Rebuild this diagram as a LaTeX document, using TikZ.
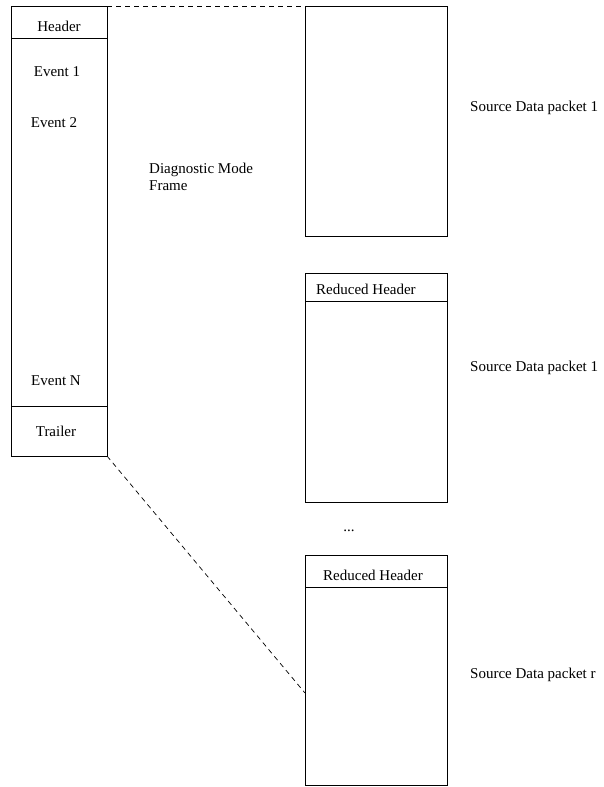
\documentclass[tikz,border=0pt]{standalone}
\usepackage{fontspec}
\setmainfont{Liberation Serif}
\begin{document}
\begin{tikzpicture}[x=1pt,y=-1pt,
  box/.style={draw,line width=0.8pt,inner sep=0pt,outer sep=0pt,anchor=north west},
  lbl/.style={inner sep=0pt,font=\fontsize{15}{17.5}\selectfont},
  sep/.style={line width=0.8pt},
  link/.style={line width=0.7pt,dashed,dash pattern=on 5pt off 4pt}]
\useasboundingbox (0,0) rectangle (604,787);
% diagnostic mode frame
\node[box,minimum width=96pt,minimum height=450pt] (frame) at (11,6) {};
\coordinate (hdL) at (11,38);   \coordinate (hdR) at (107,38);
\coordinate (trL) at (11,406);  \coordinate (trR) at (107,406);
\draw[sep] (hdL) -- (hdR);
\draw[sep] (trL) -- (trR);
\node[lbl] (hdr) at (59,26) {Header};
\node[lbl] (ev1) at (57,72) {Event 1};
\node[lbl] (ev2) at (54,123) {Event 2};
\node[lbl] (evn) at (56,381) {Event N};
\node[lbl] (trl) at (56,431) {Trailer};
\node[lbl,anchor=west,align=left] (dmf) at (149,177) {Diagnostic Mode\\Frame};
% source data packets
\node[box,minimum width=142pt,minimum height=230pt] (p1) at (305,6) {};
\node[box,minimum width=142pt,minimum height=229pt] (p2) at (305,273) {};
\node[box,minimum width=142pt,minimum height=230pt] (p3) at (305,555) {};
\coordinate (d2L) at (305,301); \coordinate (d2R) at (447,301);
\coordinate (d3L) at (305,587); \coordinate (d3R) at (447,587);
\draw[sep] (d2L) -- (d2R);
\draw[sep] (d3L) -- (d3R);
\node[lbl,anchor=west] (rh2) at (316,289) {Reduced Header};
\node[lbl] (rh3) at (373,575) {Reduced Header};
\node[lbl] (dots) at (349,531) {...};
\node[lbl,anchor=west] (s1) at (470,108) {Source Data packet 1};
\node[lbl,anchor=west] (s2) at (470,368) {Source Data packet 1};
\node[lbl,anchor=west] (sr) at (470,675) {Source Data packet r};
% dashed links
\coordinate (p3in) at (305,693);
\draw[link] (frame.north east) -- (p1.north west);
\draw[link] (frame.south east) -- (p3in);
\end{tikzpicture}
\end{document}
